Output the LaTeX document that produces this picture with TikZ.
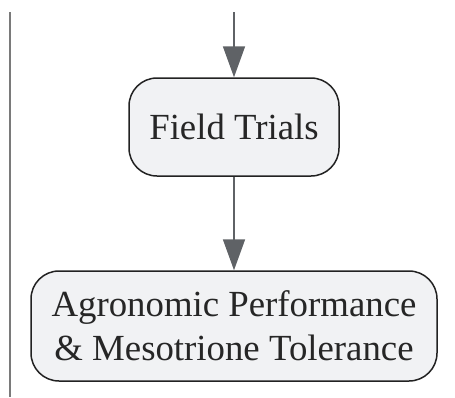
\documentclass[tikz,border=0pt]{standalone}
\usepackage{fontspec}
\setmainfont{Liberation Serif}
\usepackage{tikz}
\usetikzlibrary{arrows.meta}

\definecolor{stepfill}{HTML}{F1F2F4}
\definecolor{stepline}{HTML}{222222}
\definecolor{flowgray}{HTML}{5F6266}
\definecolor{railgray}{HTML}{7A7A7A}

\tikzset{
	stepbox/.style={draw=stepline, line width=1.5pt, fill=stepfill, rounded corners=28pt,
		align=center, inner sep=0pt, text=black!85,
		font=\fontsize{36.8}{44}\selectfont},
	flow/.style={draw=flowgray, line width=1.8pt,
		-{Triangle[length=31pt,width=22pt,fill=flowgray]}}
}

\begin{document}
\begin{tikzpicture}[x=1pt,y=1pt]
				% Frame
				\useasboundingbox (0,0) rectangle (455,-397);
				% Rail on the left
				\draw[railgray, line width=2pt] (9.5,-12) -- (9.5,-397);
				% Steps
				\node[stepbox, minimum width=210pt, minimum height=98pt] (trials) at (234,-127) {Field Trials};
				\node[stepbox, minimum width=406pt, minimum height=110pt] (perf) at (234,-326)
					{Agronomic Performance\\\& Mesotrione Tolerance};
				% Arrows
				\coordinate (top) at (234,-12);
				\draw[flow] (top) -- (trials.north);
				\draw[flow] (trials.south) -- (perf.north);
			\end{tikzpicture}
\end{document}
